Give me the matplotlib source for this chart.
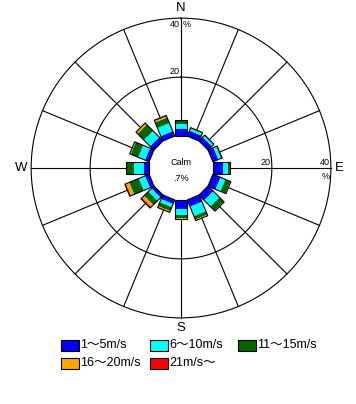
import numpy as np
import matplotlib.pyplot as plt
from matplotlib.transforms import Affine2D
from matplotlib.patches import Rectangle

plt.rcParams['font.family'] = ['Liberation Sans', 'Noto Sans CJK JP', 'DejaVu Sans']

directions = ['N', 'NNE', 'NE', 'ENE', 'E', 'ESE', 'SE', 'SSE',
              'S', 'SSW', 'SW', 'WSW', 'W', 'WNW', 'NW', 'NNW']
speed_labels = ['1～5m/s', '6～10m/s', '11～15m/s', '16～20m/s', '21m/s～']
# frequency (%) per direction and speed class
s1_5 = [2.4, 2.0, 1.8, 2.0, 3.3, 2.8, 2.5, 2.5, 3.0, 1.5, 1.2, 1.5, 1.7, 1.5, 1.8, 1.8]
s6_10 = [1.7, 0.8, 0.7, 1.0, 1.7, 1.8, 3.0, 3.5, 2.0, 1.2, 1.5, 2.3, 3.4, 2.5, 3.0, 3.0]
s11_15 = [0.9, 0.2, 0.2, 0.3, 0.7, 1.8, 2.0, 1.2, 1.2, 1.4, 2.0, 3.5, 2.3, 2.7, 3.0, 2.0]
s16_20 = [0.5, 0.1, 0.1, 0.1, 0.2, 0.2, 0.2, 0.3, 0.2, 0.4, 1.0, 1.2, 0.3, 0.4, 0.7, 0.5]
s21 = [0.1, 0.0, 0.0, 0.0, 0.0, 0.0, 0.0, 0.1, 0.0, 0.1, 0.5, 0.4, 0.0, 0.0, 0.1, 0.3]
calm = '.7%'
rings = [20, 40]

colors = ['#0000ff', '#00ffff', '#006400', '#ffa500', '#ff0000']
series = [s1_5, s6_10, s11_15, s16_20, s21]

r0 = 10.8      # radius of calm circle (in % units)
rmax = r0 + 40
bw = 4.4
px = 2.95      # pixels per % unit

fig = plt.figure(figsize=(3.56, 4.04), dpi=100)
ax = fig.add_axes([0, 0, 1, 1])
ax.set_xlim(-181 / px, (356 - 181) / px)
ax.set_ylim(-236 / px, 168 / px)
ax.axis('off')

# grid
t = np.linspace(0, 2 * np.pi, 400)
for r in rings:
    ax.plot((r0 + r) * np.sin(t), (r0 + r) * np.cos(t), color='black', lw=0.8, zorder=1)
ang = np.deg2rad(np.arange(16) * 22.5)
for a in ang:
    ax.plot([r0 * np.sin(a), rmax * np.sin(a)], [r0 * np.cos(a), rmax * np.cos(a)],
            color='black', lw=0.8, zorder=1)

# stacked bars, drawn upright then rotated to each direction
for i, d in enumerate(directions):
    tr = Affine2D().rotate_deg(-22.5 * i) + ax.transData
    bottom = r0
    for vals, c in zip(series, colors):
        if vals[i] > 0:
            ax.bar(0, vals[i], width=bw, bottom=bottom, color=c, lw=0, transform=tr, zorder=2)
        bottom += vals[i]
    ax.bar(0, bottom - r0, width=bw, bottom=r0, fill=False, edgecolor='black',
           lw=0.8, transform=tr, zorder=3)

ax.add_patch(plt.Circle((0, 0), r0 - 0.3, color='white', zorder=2.5))

# labels
ax.text(0, rmax + 1.3, 'N', ha='center', va='bottom', fontsize=9.5)
ax.text(0, -rmax - 1.5, 'S', ha='center', va='top', fontsize=9.5)
ax.text(rmax + 1.2, 0, 'E', ha='left', va='center', fontsize=9.5)
ax.text(-rmax - 1.2, 0, 'W', ha='right', va='center', fontsize=9.5)
ax.text(-0.5, rmax - 0.5, '40', ha='right', va='top', fontsize=6.5)
ax.text(0.5, rmax - 0.5, '%', ha='left', va='top', fontsize=6.5)
ax.text(-0.5, r0 + 20 + 0.3, '20', ha='right', va='bottom', fontsize=6.5)
ax.text(r0 + 20 - 0.3, 0.4, '20', ha='right', va='bottom', fontsize=6.5)
ax.text(rmax - 0.3, 0.4, '40', ha='right', va='bottom', fontsize=6.5)
ax.text(rmax - 0.3, -1.2, '%', ha='right', va='top', fontsize=6.5)
ax.text(0, 2.0, 'Calm', ha='center', va='center', fontsize=6.5)
ax.text(0, -3.4, calm, ha='center', va='center', fontsize=6.5)

# legend
W, H = 356.0, 404.0
pos = [(61, 340), (150, 340), (238, 340), (61, 358), (150, 358)]
for (x, y), c, lab in zip(pos, colors, speed_labels):
    fig.patches.append(Rectangle((x / W, 1 - (y + 11) / H), 18 / W, 11 / H,
                                 facecolor=c, edgecolor='black', lw=0.8,
                                 transform=fig.transFigure, figure=fig))
    fig.text((x + 19) / W, 1 - (y + 5.5) / H, lab, ha='left', va='center', fontsize=9)

fig.savefig('out.png', dpi=100)
